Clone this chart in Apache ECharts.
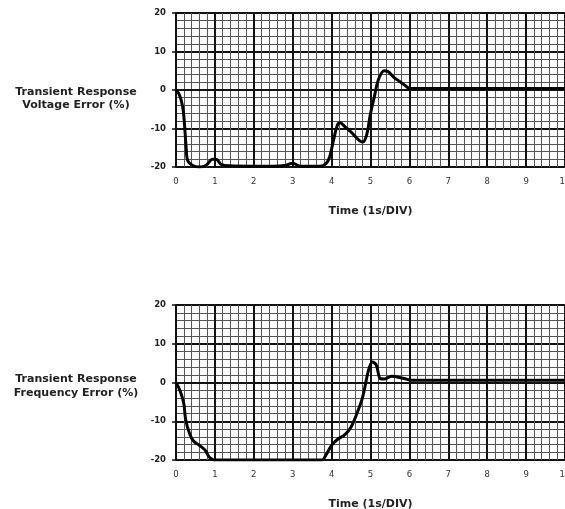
<!DOCTYPE html>
<html>
<head>
<meta charset="utf-8">
<script src="https://cdn.jsdelivr.net/npm/echarts@6/dist/echarts.min.js"></script>
<style>
  html, body { margin: 0; padding: 0; background: #fff; }
  #main { width: 565px; height: 509px; }
</style>
</head>
<body>
<div id="main"></div>
<script>
// Voltage error (%) vs time (s)
var voltTime = [0, 0.09, 0.17, 0.21, 0.26, 0.3, 0.43, 0.6, 0.77, 0.94, 1.03, 1.16, 1.37, 2.0, 2.5, 2.8, 3.0, 3.2, 3.7, 3.85, 3.95, 4.05, 4.15, 4.22, 4.35, 4.5, 4.7, 4.8, 4.9, 5.0, 5.1, 5.2, 5.35, 5.45, 5.6, 5.75, 5.9, 6.0, 7, 8, 9, 10];
var voltValue = [0, -1.3, -4.3, -7.8, -14.8, -18.3, -19.6, -20, -19.6, -18, -18, -19.3, -19.7, -19.8, -19.8, -19.6, -19, -19.8, -19.8, -19.2, -17.4, -13, -9.1, -8.5, -9.6, -10.9, -13, -13.5, -11.7, -6.1, -1.7, 2.6, 5, 4.8, 3.3, 2.2, 1.1, 0.4, 0.4, 0.4, 0.4, 0.4];

// Frequency error (%) vs time (s)
var freqTime = [0, 0.1, 0.2, 0.25, 0.35, 0.45, 0.6, 0.75, 0.85, 0.95, 1.0, 2.0, 3.0, 3.75, 3.85, 4.0, 4.15, 4.35, 4.5, 4.65, 4.8, 4.95, 5.05, 5.15, 5.25, 5.35, 5.55, 5.75, 5.95, 6.05, 7, 8, 9, 10];
var freqValue = [0, -2, -5.4, -9.7, -13.2, -15.1, -16.2, -17.5, -19.2, -19.9, -20, -20, -20, -20, -18.8, -16.2, -14.7, -13.4, -11.5, -8, -3.7, 3.2, 5.3, 4.5, 1, 0.9, 1.6, 1.3, 0.8, 0.6, 0.6, 0.6, 0.6, 0.6];

var xTicks = ['0', '1', '2', '3', '4', '5', '6', '7', '8', '9', '10'];
var yTicks = [-20, -10, 0, 10, 20];

function pairs(xs, ys) {
  var out = [];
  for (var i = 0; i < xs.length; i++) out.push([xs[i], ys[i]]);
  return out;
}

var FONT = 'DejaVu Sans';

function makeX(idx) {
  return {
    gridIndex: idx,
    type: 'value',
    min: 0, max: 10, interval: 1,
    name: 'Time (1s/DIV)',
    nameLocation: 'middle',
    nameGap: 39,
    nameTextStyle: { fontFamily: FONT, fontWeight: 'bold', fontSize: 11, color: '#222' },
    axisLine: { show: true, lineStyle: { color: '#111', width: 2 } },
    axisTick: { show: true, length: 4, lineStyle: { color: '#111', width: 1.5 } },
    axisLabel: {
      margin: 10, fontFamily: FONT, fontSize: 8.5, color: '#333',
      formatter: function (v) { return xTicks[Math.round(v)]; }
    },
    splitLine: { show: true, lineStyle: { color: '#111', width: 2 } },
    minorTick: { show: false, splitNumber: 5 },
    minorSplitLine: { show: true, lineStyle: { color: '#555', width: 1 } }
  };
}

function makeY(idx) {
  return {
    gridIndex: idx,
    type: 'value',
    min: -20, max: 20, interval: 10,
    axisLine: { show: true, onZero: false, lineStyle: { color: '#111', width: 2 } },
    axisTick: { show: true, length: 4, lineStyle: { color: '#111', width: 1.5 } },
    axisLabel: {
      margin: 10, fontFamily: FONT, fontWeight: 'bold', fontSize: 8.5, color: '#222',
      formatter: function (v) { return yTicks.indexOf(v) >= 0 ? String(v) : ''; }
    },
    splitLine: { show: true, lineStyle: { color: '#111', width: 2 } },
    minorTick: { show: false, splitNumber: 5 },
    minorSplitLine: { show: true, lineStyle: { color: '#555', width: 1 } }
  };
}

var chart = echarts.init(document.getElementById('main'), null, { renderer: 'canvas' });

var option = {
  backgroundColor: '#fff',
  animation: false,
  grid: [
    { left: 176, top: 13, width: 389, height: 154, outerBoundsMode: 'none', containLabel: false },
    { left: 176, top: 305, width: 389, height: 155, outerBoundsMode: 'none', containLabel: false }
  ],
  xAxis: [makeX(0), makeX(1)],
  yAxis: [makeY(0), makeY(1)],
  graphic: [
    {
      type: 'text', x: 76, y: 86,
      style: {
        text: 'Transient Response\nVoltage Error (%)',
        font: 'bold 11px "DejaVu Sans"', fill: '#222',
        align: 'center', verticalAlign: 'top', lineHeight: 13
      }
    },
    {
      type: 'text', x: 76, y: 372,
      style: {
        text: 'Transient Response\nFrequency Error (%)',
        font: 'bold 11px "DejaVu Sans"', fill: '#222',
        align: 'center', verticalAlign: 'top', lineHeight: 14
      }
    }
  ],
  series: [
    {
      name: 'Voltage Error',
      type: 'line',
      xAxisIndex: 0, yAxisIndex: 0,
      smooth: 0.35,
      symbol: 'none',
      lineStyle: { color: '#000', width: 3 },
      data: pairs(voltTime, voltValue)
    },
    {
      name: 'Frequency Error',
      type: 'line',
      xAxisIndex: 1, yAxisIndex: 1,
      smooth: 0.35,
      symbol: 'none',
      lineStyle: { color: '#000', width: 3 },
      data: pairs(freqTime, freqValue)
    }
  ]
};

chart.setOption(option);
</script>
</body>
</html>
